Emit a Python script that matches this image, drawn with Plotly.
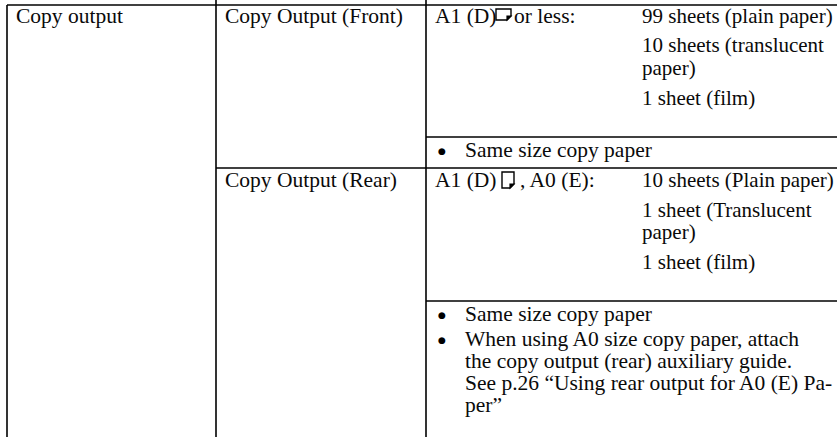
import plotly.graph_objects as go

# ---- table content (text data) ----
item_label = "Copy output"
sub_labels = ["Copy Output (Front)", "Copy Output (Rear)"]
size_prefix = ["A1 (D)", "A1 (D)"]
size_suffix = ["or less:", ", A0 (E):"]
front_capacity = ["99 sheets (plain paper)", "10 sheets (translucent", "paper)", "1 sheet (film)"]
rear_capacity = ["10 sheets (Plain paper)", "1 sheet (Translucent", "paper)", "1 sheet (film)"]
front_notes = [["Same size copy paper"]]
rear_notes = [
    ["Same size copy paper"],
    ["When using A0 size copy paper, attach",
     "the copy output (rear) auxiliary guide.",
     "See p.26 \u201cUsing rear output for A0 (E) Pa-",
     "per\u201d"],
]

# ---- layout geometry (pixels) ----
W, H = 837, 437
FONT = dict(family="Liberation Serif, Times New Roman, serif", size=21.5, color="#0a0a0a")
CAP_FONT = dict(family="Liberation Serif, Times New Roman, serif", size=21, color="#0a0a0a")
BULLET_FONT = dict(family="DejaVu Sans, sans-serif", size=9, color="#000000")
LINE = dict(color="#000000", width=1.6)

col_left, col2, col3 = 7, 216, 426
top = 5
x_item, x_sub, x_size, x_cap, x_bullet, x_btext = 14, 223, 433, 640, 436, 463
front_cap_y = [16, 45, 68, 98]
rear_cap_y = [180, 210, 232, 262]
front_note_y = [150]
rear_note_y = [314, 339, 361, 383, 405]
y_front_split, y_rear_row, y_rear_split = 137, 168, 301
suffix_x = [512, 518]

fig = go.Figure()
shapes = []
def hline(y, x0, x1):
    shapes.append(dict(type="line", xref="x", yref="y", x0=x0, x1=x1, y0=y, y1=y, line=LINE))
def vline(x, y0, y1):
    shapes.append(dict(type="line", xref="x", yref="y", x0=x, x1=x, y0=y0, y1=y1, line=LINE))

hline(top, col_left, W)
vline(col_left, top, H)
vline(col2, 0, H)
vline(col3, 0, H)
hline(y_front_split, col3, W)
hline(y_rear_row, col2, W)
hline(y_rear_split, col3, W)

# orientation icons (sheet with folded corner)
def sheet_icon(x0, y0, w, h, f):
    x1, y1 = x0 + w, y0 + h
    outline = f"M{x0},{y0} L{x1},{y0} L{x1},{y1-f} L{x1-f},{y1} L{x0},{y1} Z"
    fold = f"M{x1},{y1-f} L{x1-f},{y1} L{x1-f},{y1-f} Z"
    shapes.append(dict(type="path", xref="x", yref="y", path=outline,
                       line=dict(color="#000", width=1.4), fillcolor="rgba(0,0,0,0)"))
    shapes.append(dict(type="path", xref="x", yref="y", path=fold,
                       line=dict(color="#000", width=1.2), fillcolor="#000"))

sheet_icon(496, 9, 15, 11, 4)
sheet_icon(502, 172, 12, 16, 4)

ann = []
def text(x, y, s, font=FONT):
    ann.append(dict(x=x, y=y, xref="x", yref="y", text=s, showarrow=False,
                    xanchor="left", yanchor="middle", font=font))

text(x_item, front_cap_y[0], item_label)
text(x_sub, front_cap_y[0], sub_labels[0])
text(x_sub, rear_cap_y[0], sub_labels[1])
text(x_size, front_cap_y[0], size_prefix[0])
text(suffix_x[0], front_cap_y[0], size_suffix[0])
text(x_size, rear_cap_y[0], size_prefix[1])
text(suffix_x[1], rear_cap_y[0], size_suffix[1])
for s, y in zip(front_capacity, front_cap_y):
    text(x_cap, y, s, CAP_FONT)
for s, y in zip(rear_capacity, rear_cap_y):
    text(x_cap, y, s, CAP_FONT)

def notes(groups, ys):
    i = 0
    for g in groups:
        for j, line in enumerate(g):
            if j == 0:
                text(x_bullet, ys[i] + 1, "\u25cf", BULLET_FONT)
            text(x_btext, ys[i], line)
            i += 1
notes(front_notes, front_note_y)
notes(rear_notes, rear_note_y)

fig.update_layout(
    width=W, height=H, margin=dict(l=0, r=0, t=0, b=0),
    paper_bgcolor="white", plot_bgcolor="white",
    xaxis=dict(range=[0, W], visible=False, fixedrange=True),
    yaxis=dict(range=[H, 0], visible=False, fixedrange=True),
    shapes=shapes, annotations=ann, showlegend=False,
)
fig.write_html("out.html", config={"displayModeBar": False},
               post_script="document.body.style.margin='0';document.body.style.overflow='hidden';")
